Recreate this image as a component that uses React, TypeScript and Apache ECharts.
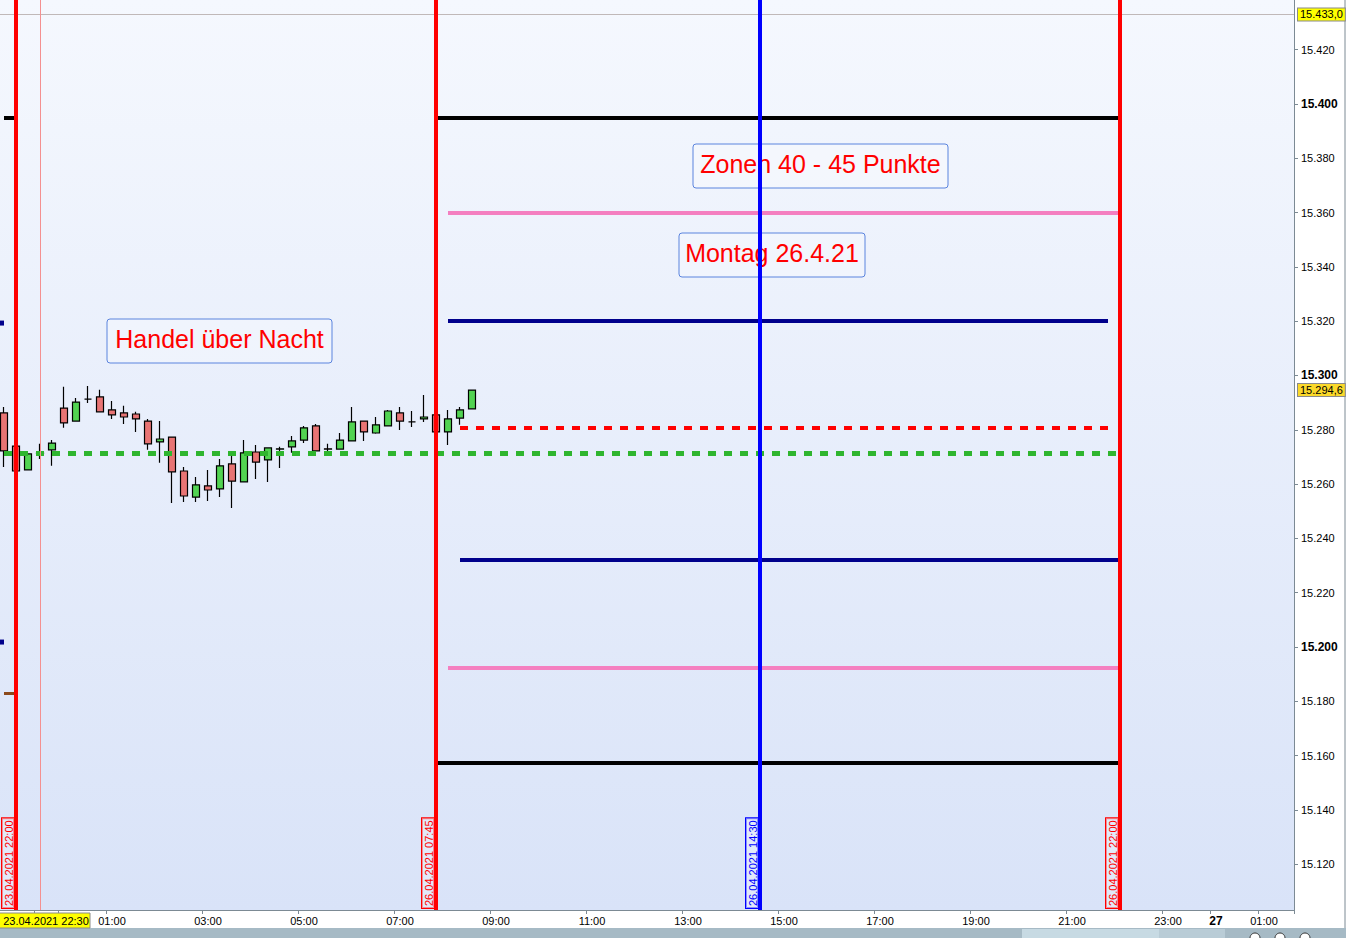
import React, { useEffect, useRef } from "react";
import * as echarts from "echarts";

// ---------- DATA ----------
const fridaySlots = ["23.04 21:45", "23.04 22:00", "23.04 22:15", "23.04 22:30", "23.04 22:45"];
const mondaySlotCount = 103; // 15-minute slots from 26.04 00:00
const categories: string[] = [...fridaySlots];
for (let i = 0; i < mondaySlotCount; i++) {
  const mins = i * 15;
  const day = mins >= 1440 ? "27.04" : "26.04";
  const m = mins % 1440;
  const hh = String(Math.floor(m / 60)).padStart(2, "0");
  const mm = String(m % 60).padStart(2, "0");
  categories.push(`${day} ${hh}:${mm}`);
}

// [open, close, low, high]
const candles: number[][] = [
  [15286.2, 15272.2, 15266.3, 15288.4],
  [15274.0, 15264.8, 15264.5, 15274.8],
  [15265.2, 15271.1, 15265.2, 15271.1],
  [15271.4, 15271.3, 15269.2, 15274.8],
  [15272.6, 15275.1, 15266.7, 15276.2],
  [15288.0, 15282.5, 15280.7, 15295.8],
  [15283.2, 15290.2, 15283.2, 15291.7],
  [15291.3, 15291.3, 15289.9, 15296.1],
  [15292.1, 15286.6, 15286.6, 15294.7],
  [15287.3, 15285.5, 15284.0, 15290.6],
  [15286.2, 15284.7, 15282.1, 15288.8],
  [15285.8, 15284.0, 15279.2, 15286.6],
  [15283.2, 15274.8, 15272.6, 15284.0],
  [15275.5, 15276.6, 15267.8, 15283.2],
  [15277.3, 15264.5, 15253.0, 15277.3],
  [15264.8, 15255.6, 15253.4, 15266.3],
  [15255.2, 15259.7, 15253.4, 15262.6],
  [15259.3, 15257.8, 15253.8, 15265.2],
  [15258.2, 15266.7, 15255.2, 15269.2],
  [15267.4, 15261.1, 15251.2, 15270.3],
  [15260.8, 15271.5, 15260.8, 15276.2],
  [15271.8, 15268.1, 15261.9, 15274.4],
  [15268.9, 15273.3, 15260.8, 15273.3],
  [15272.9, 15273.0, 15265.9, 15273.7],
  [15273.7, 15275.9, 15271.5, 15277.7],
  [15276.2, 15280.7, 15275.1, 15281.4],
  [15281.4, 15272.2, 15272.2, 15282.1],
  [15273.0, 15272.9, 15271.8, 15274.8],
  [15272.9, 15276.2, 15272.9, 15278.8],
  [15275.9, 15282.9, 15275.9, 15288.4],
  [15283.2, 15279.2, 15275.9, 15283.2],
  [15278.8, 15281.8, 15278.5, 15284.7],
  [15281.4, 15286.9, 15281.4, 15287.3],
  [15286.2, 15283.2, 15279.9, 15288.4],
  [15282.9, 15282.9, 15281.0, 15286.9],
  [15284.0, 15284.7, 15282.9, 15292.8],
  [15285.5, 15279.2, 15279.2, 15285.5],
  [15279.2, 15284.0, 15274.4, 15287.3],
  [15284.3, 15287.3, 15281.8, 15288.4],
  [15287.7, 15294.6, 15287.7, 15294.6],
];

const yMin = 15103.1;
const yMax = 15438.3;
const lastPrice = 15294.6;
const highMark = 15433.0;

// horizontal level lines: [fromCategory, toCategory, value, color, width, dashed]
const levelLines: [string, string, number, string, number, boolean][] = [
  ["23.04 21:45", "23.04 22:00", 15394.8, "#000000", 4, false],
  ["26.04 07:45", "26.04 22:00", 15394.8, "#000000", 4, false],
  ["26.04 08:00", "26.04 22:00", 15360.0, "#f47fc0", 4, false],
  ["26.04 08:00", "26.04 21:45", 15320.0, "#00008c", 4, false],
  ["26.04 08:15", "26.04 21:45", 15280.7, "#ff0000", 4, true],
  ["23.04 21:45", "26.04 22:00", 15271.5, "#2fb52f", 5, true],
  ["26.04 08:15", "26.04 22:00", 15232.0, "#00008c", 4, false],
  ["26.04 08:00", "26.04 22:00", 15192.3, "#f47fc0", 4, false],
  ["26.04 07:45", "26.04 22:00", 15157.3, "#000000", 4, false],
  ["23.04 21:45", "23.04 22:00", 15183.1, "#8b4a1c", 3, false],
];
// small level stubs at the left edge: [category, value, color]
const levelStubs: [string, number, string][] = [
  ["23.04 21:45", 15319.3, "#00008c"],
  ["23.04 21:45", 15201.8, "#00008c"],
];

// vertical time markers: [category, label, color, width]
const timeMarkers: [string, string, string, number][] = [
  ["23.04 22:00", "23.04.2021 22:00", "#ff0000", 4],
  ["26.04 07:45", "26.04.2021 07:45", "#ff0000", 4],
  ["26.04 14:30", "26.04.2021 14:30", "#0000ff", 4],
  ["26.04 22:00", "26.04.2021 22:00", "#ff0000", 4],
];
const crosshairCategory = "23.04 22:30";
const crosshairLabel = "23.04.2021 22:30";

const notes = [
  { text: "Zonen 40 - 45 Punkte", x: 693, y: 144, w: 255, h: 44 },
  { text: "Montag 26.4.21", x: 679, y: 233, w: 186, h: 44 },
  { text: "Handel über Nacht", x: 107, y: 319, w: 225, h: 44 },
];

const FONT = "'Liberation Sans', Arial, sans-serif";

function fmtPrice(v: number): string {
  const r = Math.round(v);
  return `${Math.floor(r / 1000)}.${String(r % 1000).padStart(3, "0")}`;
}

function showXLabel(value: string): boolean {
  if (value.startsWith("23.04")) return false;
  const [, t] = value.split(" ");
  const [hh, mm] = t.split(":").map(Number);
  if (mm !== 0) return false;
  if (hh === 0) return value.startsWith("27");
  return hh % 2 === 1;
}

export default function App() {
  const ref = useRef<HTMLDivElement>(null);
  useEffect(() => {
    document.body.style.margin = "0";
    const chart = echarts.init(ref.current!, null, { renderer: "svg" });

    const hLines = levelLines.map(([a, b, v, c, w, dashed]) => [
      {
        coord: [a, v],
        lineStyle: { color: c, width: w, type: dashed ? [8, 8] : "solid" },
      },
      { coord: [b, v] },
    ]);
    const vLines = timeMarkers.map(([cat, lbl, c, w]) => ({
      xAxis: cat,
      lineStyle: { color: c, width: w, type: "solid" },
      label: {
        show: true,
        position: "insideStartTop",
        formatter: lbl,
        color: c,
        fontSize: 11,
        fontFamily: FONT,
        borderColor: c,
        borderWidth: 1,
        padding: [1, 2, 0, 2],
        distance: 2,
        backgroundColor: "rgba(230,236,250,0.6)",
      },
    }));

    const option: any = {
      animation: false,
      backgroundColor: "#ffffff",
      grid: { left: -2, right: 52, top: 0, bottom: 28, containLabel: false, outerBoundsMode: "none" },
      xAxis: {
        type: "category",
        data: categories,
        boundaryGap: true,
        axisLine: { show: true, lineStyle: { color: "#7c8a94", width: 1 } },
        axisTick: {
          show: true,
          length: 4,
          lineStyle: { color: "#7c8a94" },
          interval: (i: number, v: string) => showXLabel(v) || v === crosshairCategory || v === "26.04 00:00",
        },
        axisLabel: {
          interval: (i: number, v: string) => showXLabel(v),
          margin: 5,
          fontSize: 11,
          color: "#000",
          fontFamily: FONT,
          formatter: (v: string) => {
            const t = v.split(" ")[1];
            if (t === "00:00") return `{b|${v.slice(0, 2)}}`;
            return t;
          },
          rich: { b: { fontSize: 12, fontWeight: "bold", fontFamily: FONT, color: "#000" } },
        },
        splitLine: { show: false },
      },
      yAxis: {
        type: "value",
        position: "right",
        min: yMin,
        max: yMax,
        splitNumber: 17,
        scale: true,
        axisLine: { show: true, lineStyle: { color: "#7c8a94", width: 1 } },
        axisTick: { show: true, length: 4, lineStyle: { color: "#7c8a94" } },
        splitLine: { show: false },
        axisLabel: {
          showMinLabel: false,
          showMaxLabel: false,
          margin: 7,
          fontSize: 11,
          color: "#000",
          fontFamily: FONT,
          formatter: (v: number) => {
            const r = Math.round(v);
            if (r % 100 === 0) return `{b|${fmtPrice(r)}}`;
            return fmtPrice(r);
          },
          rich: { b: { fontSize: 12, fontWeight: "bold", fontFamily: FONT, color: "#000" } },
        },
      },
      graphic: [
        {
          type: "rect",
          z: -10,
          shape: { x: 0, y: 0, width: 1294, height: 910 },
          style: {
            fill: new echarts.graphic.LinearGradient(0, 0, 0, 1, [
              { offset: 0, color: "#f5f8fe" },
              { offset: 1, color: "#d9e3f8" },
            ]),
          },
        },
        {
          type: "rect",
          z: -10,
          shape: { x: 0, y: 928, width: 1346, height: 10 },
          style: { fill: "#a6bac5" },
        },
        {
          type: "rect",
          z: -9,
          shape: { x: 1022, y: 929, width: 137, height: 9 },
          style: { fill: "#c7dae3" },
        },
        {
          type: "rect",
          z: -9,
          shape: { x: 1159, y: 929, width: 66, height: 9 },
          style: { fill: "#b9ccd6" },
        },
        {
          type: "line",
          z: -9,
          shape: { x1: 1345, y1: 0, x2: 1345, y2: 928 },
          style: { stroke: "#7c8a94", lineWidth: 1 },
        },
        ...[1255, 1280, 1305].map((cx) => ({
          type: "circle",
          z: -8,
          shape: { cx, cy: 938, r: 5 },
          style: { fill: "#ffffff", stroke: "#333", lineWidth: 1 },
        })),
        {
          type: "group",
          z: 10,
          children: [
            {
              type: "rect",
              z: 10,
              shape: { x: -1, y: 913, width: 91, height: 15 },
              style: { fill: "#ffff00", stroke: "#8a8a8a", lineWidth: 1 },
            },
            {
              type: "text",
              z: 11,
              x: 46,
              y: 921,
              style: {
                text: crosshairLabel,
                fill: "#000",
                font: `11px ${FONT}`,
                align: "center",
                verticalAlign: "middle",
              },
            },
          ],
        },
        ...notes.map((n) => ({
          type: "group",
          z: 1,
          children: [
            {
              type: "rect",
              z: 1,
              shape: { x: n.x, y: n.y, width: n.w, height: n.h, r: 3 },
              style: { fill: "rgba(255,255,255,0.25)", stroke: "#5b84de", lineWidth: 1 },
            },
            {
              type: "text",
              z: 1,
              x: n.x + n.w / 2,
              y: n.y + n.h / 2 - 2,
              style: {
                text: n.text,
                fill: "#ff0000",
                font: `25px ${FONT}`,
                align: "center",
                verticalAlign: "middle",
              },
            },
          ],
        })),
      ],
      series: [
        {
          type: "candlestick",
          z: 2,
          barWidth: 8,
          data: candles,
          itemStyle: {
            color: "#52d352",
            color0: "#e87474",
            borderColor: "#000000",
            borderColor0: "#000000",
            borderWidth: 1.2,
          },
        },
        {
          type: "line",
          z: 5,
          data: [],
          silent: true,
          markPoint: {
            silent: true,
            animation: false,
            symbol: "rect",
            symbolSize: [4, 5],
            symbolOffset: [-2, 0],
            label: { show: false },
            data: levelStubs.map(([cat, v, c]) => ({ coord: [cat, v], itemStyle: { color: c } })),
          },
          markLine: {
            silent: true,
            symbol: ["none", "none"],
            animation: false,
            label: { show: false },
            data: [
              {
                yAxis: highMark,
                lineStyle: { color: "#c0b8b8", width: 1, type: "solid" },
                label: {
                  show: true,
                  position: "end",
                  distance: 4,
                  formatter: "15.433,0",
                  fontSize: 11,
                  fontFamily: FONT,
                  color: "#000",
                  backgroundColor: "#ffff00",
                  borderColor: "#8a8a8a",
                  borderWidth: 1,
                  padding: [1, 2, 0, 2],
                },
              },
              {
                yAxis: lastPrice,
                lineStyle: { color: "rgba(0,0,0,0)", width: 0 },
                label: {
                  show: true,
                  position: "end",
                  distance: 4,
                  formatter: "15.294,6",
                  fontSize: 11,
                  fontFamily: FONT,
                  color: "#000",
                  backgroundColor: "#fbd92a",
                  borderColor: "#8a8a8a",
                  borderWidth: 1,
                  padding: [1, 2, 0, 2],
                },
              },
              ...hLines,
              {
                xAxis: crosshairCategory,
                lineStyle: { color: "#f49090", width: 1, type: "solid" },
              },
              ...vLines,
            ],
          },
        },
      ],
    };
    chart.setOption(option);
    return () => chart.dispose();
  }, []);
  return (
    <div
      ref={ref}
      style={{ position: "fixed", left: 0, top: 0, width: 1346, height: 938, background: "#fff" }}
    />
  );
}
